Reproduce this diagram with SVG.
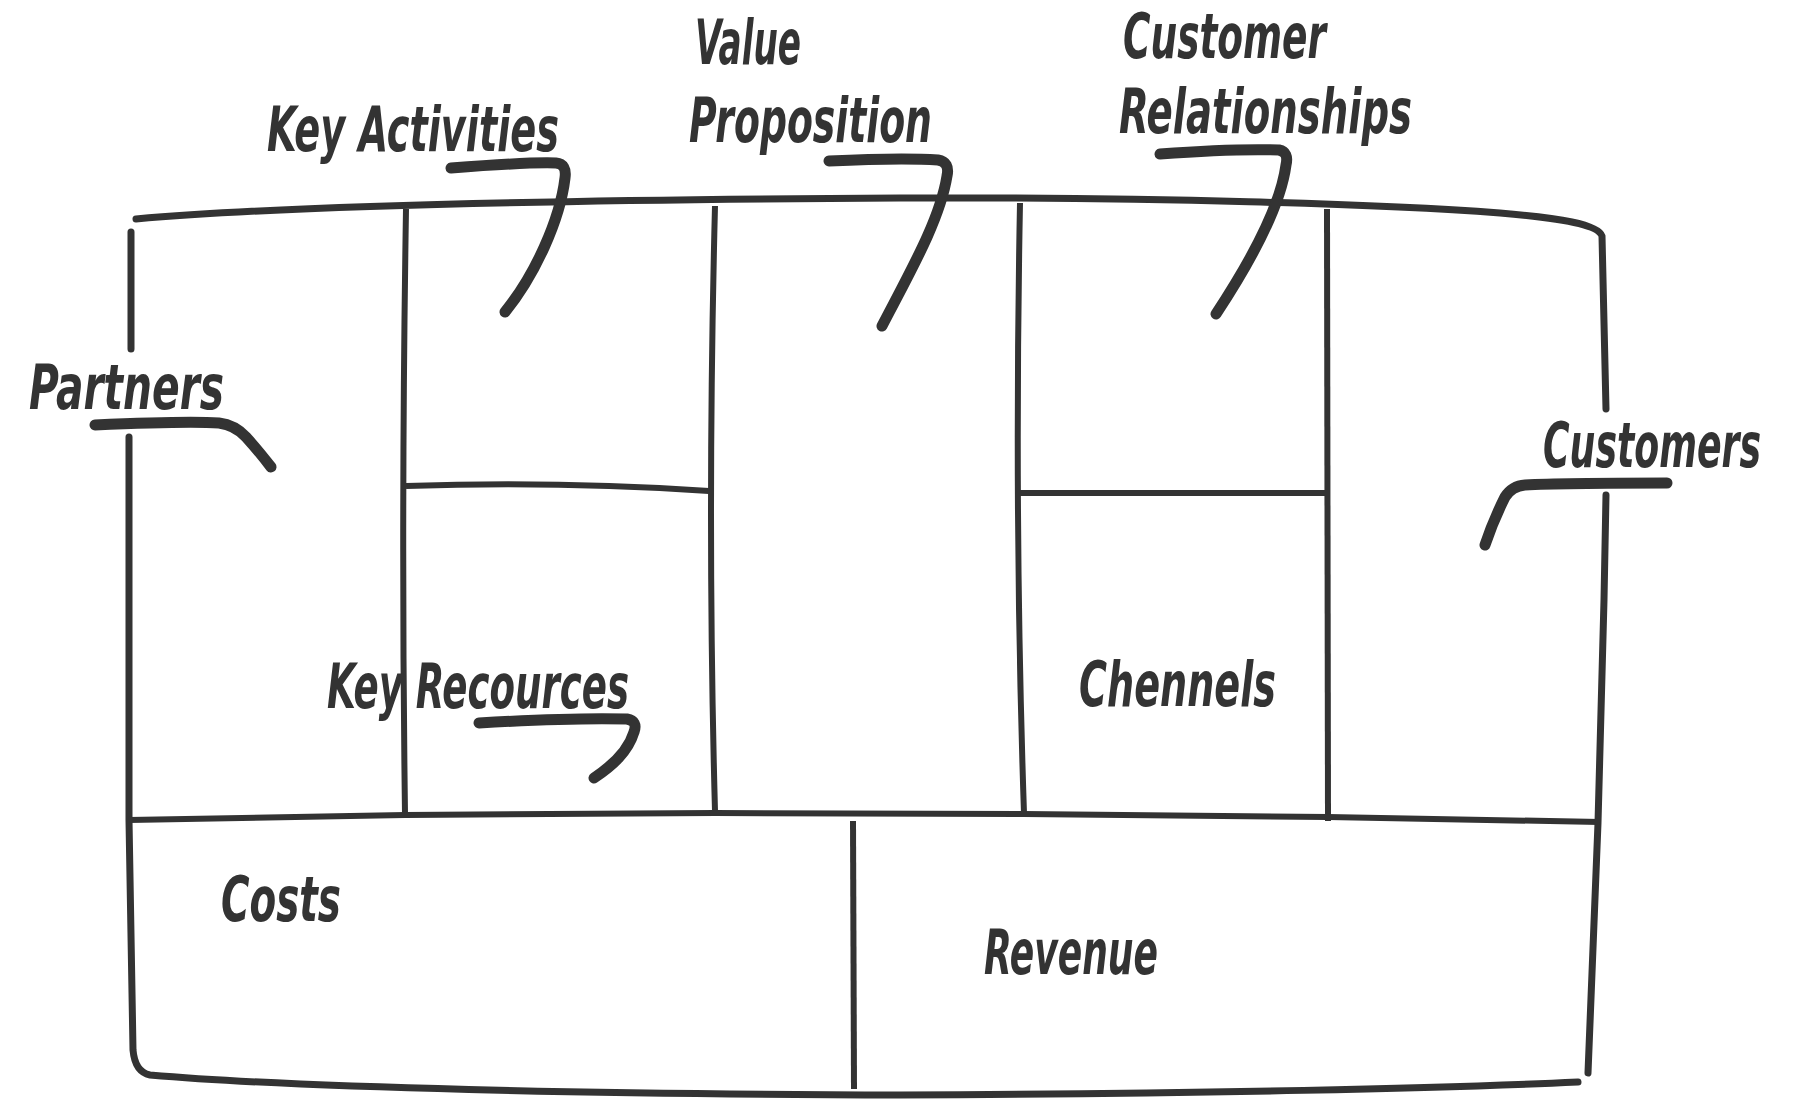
<svg xmlns="http://www.w3.org/2000/svg" width="1808" height="1099" viewBox="0 0 1808 1099">
  <style>
    .frame { fill: none; stroke: #333333; stroke-width: 7; stroke-linecap: round; stroke-linejoin: round; }
    .div { fill: none; stroke: #333333; stroke-width: 6; stroke-linecap: butt; stroke-linejoin: round; }
    .hook { fill: none; stroke: #333333; stroke-width: 11; stroke-linecap: round; stroke-linejoin: round; }
    .label { fill: #333333; font-family: "DejaVu Sans Condensed", "DejaVu Sans", "Liberation Sans Narrow", sans-serif; font-stretch: condensed; font-weight: bold; font-style: italic; font-size: 62px; }
  </style>
  <rect width="1808" height="1099" fill="#ffffff"/>

  <!-- canvas outline -->
  <g id="frame">
    <path class="frame" d="M136,219 C260,208 520,200 900,198 C1150,197 1380,204 1500,213 C1560,218 1598,224 1602,236 L1606,409"/>
    <path class="frame" d="M1606,495 L1604,600 L1598,823 L1588,1073"/>
    <path class="frame" d="M131,232 L131,349"/>
    <path class="frame" d="M129,437 L129,820 L133,1050 Q135,1072 150,1075 C300,1088 600,1094 900,1095 C1200,1094 1450,1088 1578,1082"/>
  </g>

  <!-- inner cell dividers -->
  <g id="cells">
    <path class="div" d="M129,820 L405,815 L715,813 L1024,814 L1328,817 L1600,822"/>
    <path class="div" d="M406,209 Q401,520 405,813"/>
    <path class="div" d="M715,206 Q707,520 715,811"/>
    <path class="div" d="M1020,203 Q1014,520 1024,813"/>
    <path class="div" d="M1327,209 L1328,821"/>
    <path class="div" d="M853,821 L854,1089"/>
    <path class="div" d="M406,486 Q560,481 709,491"/>
    <path class="div" d="M1019,493 L1327,493"/>
  </g>

  <!-- pointer strokes from labels into cells -->
  <g id="connectors">
    <path id="c-activities" class="hook" d="M451,168 C490,165 530,162 556,163 Q567,164 565,178 C560,220 535,275 505,312"/>
    <path id="c-value" class="hook" d="M829,161 C870,159 910,158 938,160 Q950,162 947,176 C940,220 910,272 882,326"/>
    <path id="c-relationships" class="hook" d="M1160,154 C1200,151 1250,149 1279,150 Q1289,152 1286,165 C1280,210 1245,270 1216,314"/>
    <path id="c-partners" class="hook" d="M95,425 C140,423 190,421 219,423 Q235,425 246,437 C256,448 264,458 271,467"/>
    <path id="c-customers" class="hook" d="M1667,483 C1620,483 1560,483 1525,485 Q1512,486 1505,497 C1496,515 1490,530 1485,545"/>
    <path id="c-resources" class="hook" d="M479,723 C530,720 590,718 627,719 Q638,721 634,732 C628,752 612,766 594,778"/>
  </g>

  <g id="n-value">
    <text class="label" x="695" y="64" textLength="106" lengthAdjust="spacingAndGlyphs">Value</text>
    <text class="label" x="689" y="142" textLength="243" lengthAdjust="spacingAndGlyphs">Proposition</text>
  </g>
  <g id="n-activities">
    <text class="label" x="267" y="151" textLength="292" lengthAdjust="spacingAndGlyphs">Key Activities</text>
  </g>
  <g id="n-partners">
    <text class="label" x="29" y="409" textLength="195" lengthAdjust="spacingAndGlyphs">Partners</text>
  </g>
  <g id="n-relationships">
    <text class="label" x="1123" y="58" textLength="203" lengthAdjust="spacingAndGlyphs">Customer</text>
    <text class="label" x="1119" y="133" textLength="293" lengthAdjust="spacingAndGlyphs">Relationships</text>
  </g>
  <g id="n-customers" transform="translate(1543,467) scale(1,1.41)">
    <text class="label" x="0" y="0" style="font-size:44px" textLength="218" lengthAdjust="spacingAndGlyphs">Customers</text>
  </g>
  <g id="n-resources">
    <text class="label" x="327" y="708" textLength="302" lengthAdjust="spacingAndGlyphs">Key Recources</text>
  </g>
  <g id="n-channels">
    <text class="label" x="1079" y="706" textLength="197" lengthAdjust="spacingAndGlyphs">Chennels</text>
  </g>
  <g id="n-costs">
    <text class="label" x="221" y="921" textLength="120" lengthAdjust="spacingAndGlyphs">Costs</text>
  </g>
  <g id="n-revenue">
    <text class="label" x="984" y="974" textLength="174" lengthAdjust="spacingAndGlyphs">Revenue</text>
  </g>
</svg>
